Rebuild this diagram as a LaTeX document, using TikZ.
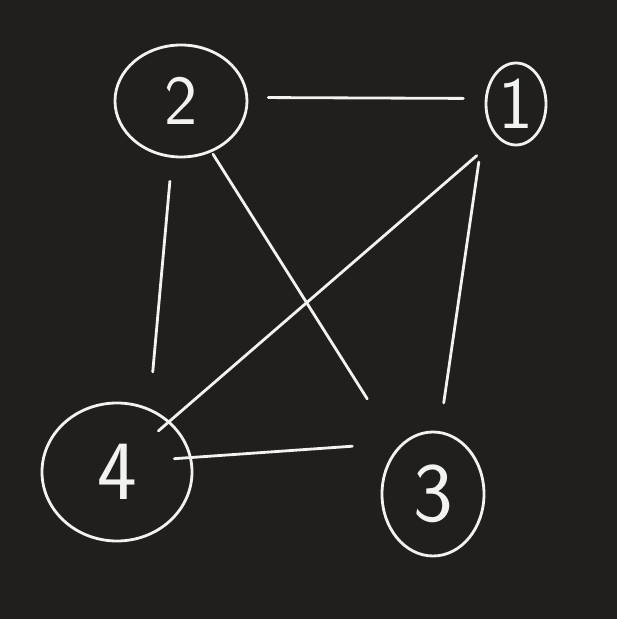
\documentclass[tikz,border=0pt]{standalone}
\usepackage{amsmath,amssymb}
\usepackage{tikz}
\usetikzlibrary{shapes.geometric}
\definecolor{board}{HTML}{201F1E}
\definecolor{chalk}{HTML}{F2F2F0}

\begin{document}
\begin{tikzpicture}[vertex/.style={shape=ellipse, draw=chalk, line width=1.6pt, text=chalk, inner sep=0pt}, wire/.style={draw=chalk, line width=1.6pt, line cap=round}]
        \fill[board] (0, 0) rectangle (12.34, 12.38);
        \useasboundingbox (0, 0) rectangle (12.34, 12.38);
        \node[vertex, minimum width=2.64cm, minimum height=2.24cm, font=\sffamily\fontsize{40}{40}\selectfont] (V2) at (3.62, 10.36) {2};
        \node[vertex, minimum width=1.2cm, minimum height=1.64cm, font=\sffamily\fontsize{42}{42}\selectfont] (V1) at (10.32, 10.30) {1};
        \node[vertex, minimum width=3.0cm, minimum height=2.76cm, font=\sffamily\fontsize{48}{48}\selectfont] (V4) at (2.34, 2.94) {4};
        \node[vertex, minimum width=2.04cm, minimum height=2.48cm, font=\sffamily\fontsize{48}{48}\selectfont] (V3) at (8.66, 2.50) {3};
        \draw[wire, shorten <=0.4cm, shorten >=0.43cm] (V2.3) to (V1.170);
        \draw[wire, shorten <=0.47cm, shorten >=0.73cm] (V2.261) to (V4.63);
        \draw[wire, shorten <=0.05cm, shorten >=1.14cm] (V2.301) to (V3.127);
        \draw[wire, shorten <=0.54cm, shorten >=-0.3cm] (V1.241) to (V4.44);
        \draw[wire, shorten <=0.95cm, shorten >=0.57cm] (V1.200) to (V3.84);
        \draw[wire, shorten <=-0.35cm, shorten >=1.0cm] (V4.11) to (V3.121);
    \end{tikzpicture}
\end{document}
